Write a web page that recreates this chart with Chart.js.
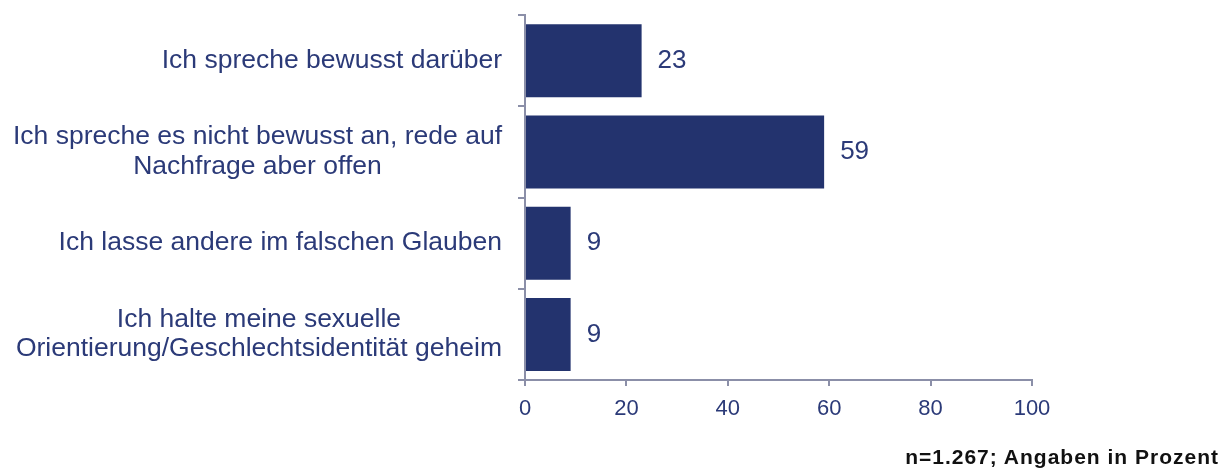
<!DOCTYPE html>
<html>
<head>
<meta charset="utf-8">
<script src="https://cdn.jsdelivr.net/npm/chart.js@4"></script>
<style>
  html, body { margin: 0; padding: 0; background: #fff; }
  #wrap { position: relative; width: 1224px; height: 469px; }
  #note { position: absolute; right: 5px; top: 445px; font: bold 21px "Liberation Sans", Arial, sans-serif; letter-spacing: 1px; color: #111; line-height: 24px; }
</style>
</head>
<body>
<div id="wrap">
  <canvas id="chart" width="1224" height="469"></canvas>
  <div id="note">n=1.267; Angaben in Prozent</div>
</div>
<script>
var categories = [
  ["Ich spreche bewusst darüber"],
  ["Ich spreche es nicht bewusst an, rede auf", "Nachfrage aber offen"],
  ["Ich lasse andere im falschen Glauben"],
  ["Ich halte meine sexuelle", "Orientierung/Geschlechtsidentität geheim"]
];
var values = [23, 59, 9, 9];
var xTicks = [0, 20, 40, 60, 80, 100];

var navy = '#23336e';
var textColor = '#2b3a78';
var axisColor = '#8b8fa8';
var font = '"Liberation Sans", Arial, sans-serif';

// labels: category text (centred block, right aligned) + value next to bar
var labelPlugin = {
  id: 'labels',
  afterDraw: function(chart) {
    var ctx = chart.ctx;
    var y = chart.scales.y;
    var meta = chart.getDatasetMeta(0);
    ctx.save();
    ctx.fillStyle = textColor;
    ctx.textBaseline = 'middle';
    ctx.font = '26.5px ' + font;
    categories.forEach(function(lines, i) {
      var cy = y.getPixelForTick(i);
      var w = 0;
      lines.forEach(function(l) { w = Math.max(w, ctx.measureText(l).width); });
      var cx = 502 - w / 2;
      ctx.textAlign = 'center';
      lines.forEach(function(l, j) {
        ctx.fillText(l, cx, cy + (j - (lines.length - 1) / 2) * 29.5);
      });
    });
    ctx.textAlign = 'left';
    ctx.font = '26px ' + font;
    meta.data.forEach(function(bar, i) {
      ctx.fillText(values[i], bar.x + 16, bar.y);
    });
    ctx.restore();
  }
};

new Chart(document.getElementById('chart').getContext('2d'), {
  type: 'bar',
  data: {
    labels: categories,
    datasets: [{
      data: values,
      backgroundColor: navy,
      borderWidth: 0,
      barPercentage: 0.8,
      categoryPercentage: 1
    }]
  },
  options: {
    indexAxis: 'y',
    responsive: false,
    animation: false,
    layout: { padding: { top: 15, right: 192, left: 0, bottom: 0 } },
    plugins: { legend: { display: false }, tooltip: { enabled: false } },
    scales: {
      x: {
        min: 0,
        max: 100,
        afterBuildTicks: function(s) { s.ticks = xTicks.map(function(v) { return { value: v }; }); },
        afterFit: function(s) { s.height = 89; },
        border: { color: axisColor, width: 2 },
        grid: { drawOnChartArea: false, color: axisColor, lineWidth: 2, tickLength: 6 },
        ticks: { color: textColor, font: { family: font, size: 22 }, padding: 10 }
      },
      y: {
        afterFit: function(s) { s.width = 525; },
        border: { color: axisColor, width: 2 },
        grid: { drawOnChartArea: false, color: axisColor, lineWidth: 2, tickLength: 7, offset: true },
        ticks: { display: false }
      }
    }
  },
  plugins: [labelPlugin]
});
</script>
</body>
</html>
